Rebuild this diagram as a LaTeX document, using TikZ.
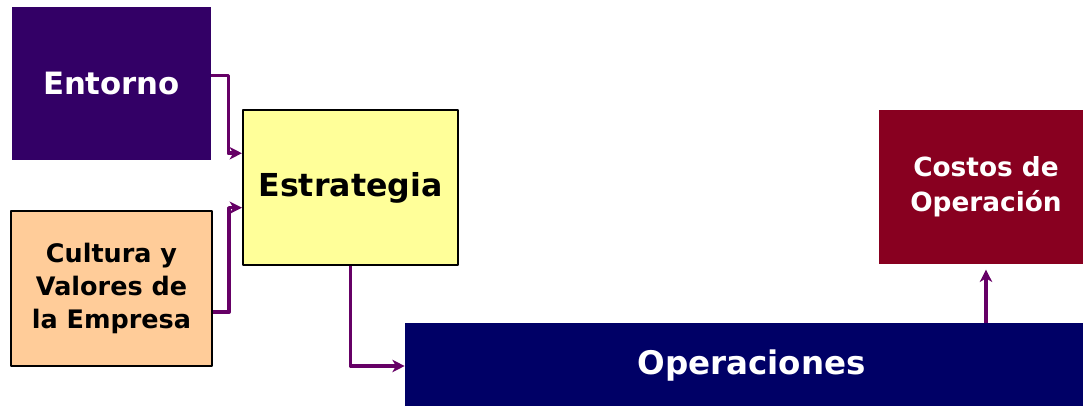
\documentclass[tikz,border=0pt]{standalone}
\usepackage{fontspec}
\setmainfont{DejaVu Sans}
\usetikzlibrary{arrows.meta}
\definecolor{morado}{HTML}{330066}
\definecolor{durazno}{HTML}{FFCC99}
\definecolor{amarillo}{HTML}{FFFF99}
\definecolor{marino}{HTML}{000066}
\definecolor{vino}{HTML}{880020}
\definecolor{flecha}{HTML}{660066}
\newcommand{\tam}[2]{\fontsize{#1}{#2}\selectfont\bfseries}
\begin{document}
\begin{tikzpicture}[x=0.02cm,y=-0.02cm,line join=round,>={Stealth[length=7pt,width=7pt,inset=2pt]},
	caja/.style={inner sep=0pt,align=center},
	oscura/.style={caja,text=white},
	clara/.style={caja,draw=black,line width=1.2pt},
	flujo/.style={draw=flecha,line width=2pt,->}]
	\clip (0,0) rectangle (1083,406);
	% bloques
	\node[oscura,fill=morado,minimum width=3.98cm,minimum height=3.06cm,font=\tam{17.5}{21}] (Entorno) at (111.5,83.5)
	{Entorno};
	\node[clara,fill=durazno,minimum width=4.02cm,minimum height=3.1cm,font=\tam{14.5}{18.8}] (Cultura) at (111.5,288.5)
	{Cultura y\\Valores de\\la Empresa};
	\node[clara,fill=amarillo,minimum width=4.3cm,minimum height=3.1cm,font=\tam{18}{21}] (Estrategia) at (350.5,187.5)
	{Estrategia};
	\node[oscura,fill=vino,minimum width=4.28cm,minimum height=3.08cm,font=\tam{15}{20}] (Costos) at (986,187)
	{Costos de\\Operación};
	\node[oscura,fill=marino,minimum width=13.86cm,minimum height=1.72cm,font=\tam{18.5}{22}] (Operaciones) at (751.5,366)
	{Operaciones};
	% conectores
	\draw[flujo] ([yshift=4.5pt]Entorno.east) -- ++(17,0) |- ([yshift=19.5pt]Estrategia.west);
	\draw[flujo] ([yshift=-13.5pt]Cultura.east) -- ++(16,0) |- ([yshift=-11.5pt]Estrategia.west);
	\draw[flujo] (Estrategia.south) |- (Operaciones.west);
	\draw[flujo] (Operaciones.north -| Costos.south) -- ([yshift=-3pt]Costos.south);
\end{tikzpicture}
\end{document}
